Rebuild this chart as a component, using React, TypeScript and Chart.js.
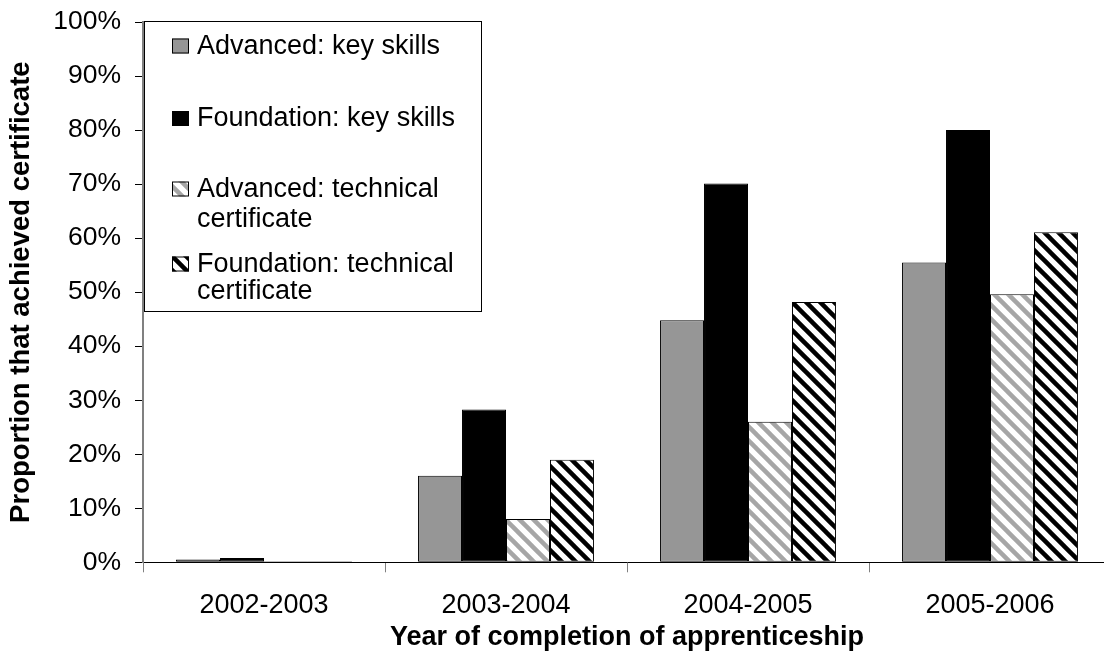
import React, { useEffect, useRef } from 'react';
import { Chart, registerables } from 'chart.js';

Chart.register(...registerables);

// ---- data ----
const categories = ['2002-2003', '2003-2004', '2004-2005', '2005-2006'];
const advancedKeySkills = [0.5, 16.0, 44.8, 55.5];
const foundationKeySkills = [0.8, 28.3, 70.1, 80.0];
const advancedTechnical = [0.2, 8.0, 26.0, 49.6];
const foundationTechnical = [0.2, 19.0, 48.2, 61.1];
const seriesLabels = [
  ['Advanced: key skills'],
  ['Foundation: key skills'],
  ['Advanced: technical', 'certificate'],
  ['Foundation: technical', 'certificate'],
];
const yMin = 0;
const yMax = 100;
const yStep = 10;
const yTitle = 'Proportion that achieved certificate';
const xTitle = 'Year of completion of apprenticeship';

// ---- layout ----
const W = 1120;
const H = 659;
const FONT = '"Liberation Sans", Arial, Helvetica, sans-serif';

function makeHatch(ctx: CanvasRenderingContext2D, stripe: string) {
  const c = document.createElement('canvas');
  const w = 14;
  const h = 14;
  c.width = w;
  c.height = h;
  const g = c.getContext('2d')!;
  g.fillStyle = '#ffffff';
  g.fillRect(0, 0, w, h);
  g.strokeStyle = stripe;
  g.lineWidth = 4.5;
  for (const dx of [-w, 0, w]) {
    g.beginPath();
    g.moveTo(dx - w, -h);
    g.lineTo(dx + 2 * w, 2 * h);
    g.stroke();
  }
  return ctx.createPattern(c, 'repeat') as CanvasPattern;
}

const legendPlugin = {
  id: 'customLegend',
  afterDraw(chart: any) {
    const ctx: CanvasRenderingContext2D = chart.ctx;
    ctx.save();
    const left = 144.5;
    const right = 481.5;
    const top = 21.5;
    const bottom = 311.5;
    ctx.fillStyle = '#ffffff';
    ctx.fillRect(left, top, right - left, bottom - top);
    ctx.strokeStyle = '#000000';
    ctx.lineWidth = 1;
    ctx.strokeRect(left, top, right - left, bottom - top);

    const baselines = [[53.5], [126], [196.5, 226.5], [271.5, 298.5]];
    const boxX = 172;
    const boxW = 17;
    const boxH = 15;
    const textX = 197;
    ctx.font = `27px ${FONT}`;
    ctx.textBaseline = 'alphabetic';
    ctx.textAlign = 'left';
    chart.data.datasets.forEach((ds: any, i: number) => {
      const bl = baselines[i];
      ctx.fillStyle = ds.backgroundColor;
      ctx.fillRect(boxX, bl[0] - boxH, boxW, boxH);
      ctx.strokeStyle = '#000000';
      ctx.lineWidth = 1;
      ctx.strokeRect(boxX + 0.5, bl[0] - boxH + 0.5, boxW - 1, boxH - 1);
      ctx.fillStyle = '#000000';
      seriesLabels[i].forEach((line, j) => {
        ctx.fillText(line, textX, bl[j]);
      });
    });
    ctx.restore();
  },
};

export default function App() {
  const canvasRef = useRef<HTMLCanvasElement | null>(null);

  useEffect(() => {
    const canvas = canvasRef.current!;
    const ctx = canvas.getContext('2d')!;
    const grayHatch = makeHatch(ctx, '#a6a6a6');
    const blackHatch = makeHatch(ctx, '#000000');

    const common = { borderColor: '#000000', borderWidth: 1, borderSkipped: false as any };
    const chart = new Chart(canvas, {
      type: 'bar',
      data: {
        labels: categories,
        datasets: [
          { label: seriesLabels[0].join(' '), data: advancedKeySkills, backgroundColor: '#969696', ...common },
          { label: seriesLabels[1].join(' '), data: foundationKeySkills, backgroundColor: '#000000', ...common },
          { label: seriesLabels[2].join(' '), data: advancedTechnical, backgroundColor: grayHatch as any, ...common },
          { label: seriesLabels[3].join(' '), data: foundationTechnical, backgroundColor: blackHatch as any, ...common },
        ],
      },
      options: {
        responsive: false,
        animation: false,
        devicePixelRatio: 1,
        datasets: { bar: { categoryPercentage: 0.727, barPercentage: 1 } },
        layout: { padding: { top: 22, right: 9, left: 0, bottom: 0 } },
        plugins: { legend: { display: false }, tooltip: { enabled: false } },
        scales: {
          x: {
            offset: true,
            grid: {
              offset: true,
              drawOnChartArea: false,
              drawTicks: true,
              tickLength: 10,
              color: '#808080',
              lineWidth: 1,
            },
            border: { display: true, color: '#000000', width: 1 },
            ticks: {
              color: '#000000',
              font: { family: FONT, size: 27 },
              padding: 17,
              maxRotation: 0,
              autoSkip: false,
            },
            title: {
              display: true,
              text: xTitle,
              color: '#000000',
              font: { family: FONT, size: 27, weight: 'bold' },
              padding: { top: 4, bottom: 5 },
            },
            afterFit: (s: any) => {
              s.height = 96.7;
              s.paddingLeft = 0;
              s.paddingRight = 0;
            },
          },
          y: {
            min: yMin,
            max: yMax,
            grid: {
              drawOnChartArea: false,
              drawTicks: true,
              tickLength: 8,
              color: '#000000',
              lineWidth: 1,
            },
            border: { display: true, color: '#808080', width: 2 },
            ticks: {
              stepSize: yStep,
              color: '#000000',
              font: { family: FONT, size: 26.5 },
              padding: 14,
              callback: (v: any) => `${v}%`,
            },
            title: {
              display: true,
              text: yTitle,
              color: '#000000',
              font: { family: FONT, size: 27.5, weight: 'bold' },
              padding: { top: 5, bottom: 2 },
            },
            afterFit: (s: any) => {
              s.width = 143;
              s.paddingTop = 0;
              s.paddingBottom = 0;
            },
          },
        },
      },
      plugins: [legendPlugin],
    });
    return () => chart.destroy();
  }, []);

  return (
    <div
      style={{
        position: 'fixed',
        left: 0,
        top: 0,
        width: 1104,
        height: 659,
        overflow: 'hidden',
        background: '#ffffff',
      }}
    >
      <canvas ref={canvasRef} width={W} height={H} style={{ display: 'block', width: W, height: H }} />
    </div>
  );
}
